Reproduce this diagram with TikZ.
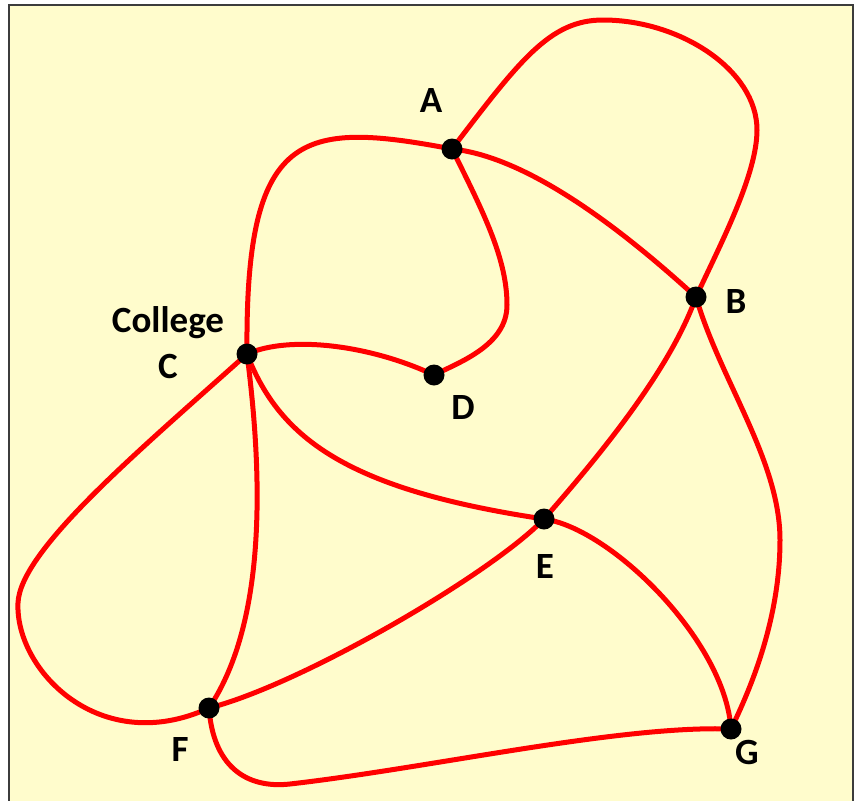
\documentclass[tikz,border=0pt]{standalone}
\usepackage{fontspec}
\setmainfont{Carlito}
\begin{document}
\begin{tikzpicture}[x=1pt,y=-1pt,
  edge/.style={draw=red,line width=5pt},
  dot/.style={circle,fill=black,inner sep=0pt,minimum size=21pt},
  lab/.style={font=\fontsize{37}{40}\selectfont\bfseries,anchor=base,inner sep=0pt}]
\useasboundingbox (0,0) rectangle (855,801);
\fill[white] (0,0) rectangle (855,801);
\filldraw[fill={rgb,255:red,255;green,252;blue,204},draw={rgb,255:red,60;green,60;blue,60},line width=2pt] (9,5) rectangle (853,806);
% node positions
\coordinate (pA) at (452,149);
\coordinate (pB) at (696,297);
\coordinate (pC) at (247,354);
\coordinate (pD) at (434,375);
\coordinate (pE) at (544,519);
\coordinate (pF) at (209,708);
\coordinate (pG) at (731,729);
\coordinate (t1) at (603,20);
\coordinate (t2) at (757,130);
\coordinate (d1) at (507,305);
\coordinate (l1) at (18,603);
\coordinate (b1) at (290,784);
\coordinate (r1) at (780,540);
% edges
\draw[edge] (pA) .. controls (300,120) and (245,130) .. (pC);
\draw[edge] (pA) .. controls (520,60) and (550,20) .. (t1)
  .. controls (680,20) and (757,70) .. (t2)
  .. controls (757,175) and (720,245) .. (pB);
\draw[edge] (pA) .. controls (510,155) and (590,200) .. (pB);
\draw[edge] (pA) .. controls (485,215) and (507,260) .. (d1)
  .. controls (507,345) and (460,362) .. (pD);
\draw[edge] (pC) .. controls (290,335) and (370,345) .. (pD);
\draw[edge] (pC) .. controls (280,440) and (350,490) .. (pE);
\draw[edge] (pC) .. controls (262,470) and (268,620) .. (pF);
\draw[edge] (pC) .. controls (140,450) and (20,550) .. (l1)
  .. controls (15,670) and (100,758) .. (pF);
\draw[edge] (pF) .. controls (300,685) and (490,575) .. (pE);
\draw[edge] (pF) .. controls (213,765) and (245,789) .. (b1)
  .. controls (430,768) and (620,725) .. (pG);
\draw[edge] (pE) .. controls (600,455) and (670,370) .. (pB);
\draw[edge] (pE) .. controls (610,528) and (725,640) .. (pG);
\draw[edge] (pB) .. controls (720,380) and (780,460) .. (r1)
  .. controls (780,620) and (750,690) .. (pG);
% dots
\node[dot] (A) at (pA) {};
\node[dot] (B) at (pB) {};
\node[dot] (C) at (pC) {};
\node[dot] (D) at (pD) {};
\node[dot] (E) at (pE) {};
\node[dot] (F) at (pF) {};
\node[dot] (G) at (pG) {};
% labels
\node[lab] (lA) at (431,112) {A};
\node[lab] (lB) at (736,313) {B};
\node[lab] (lCollege) at (168,332) {College};
\node[lab] (lC) at (168,378) {C};
\node[lab] (lD) at (463,419) {D};
\node[lab] (lE) at (545,578) {E};
\node[lab] (lF) at (180,761) {F};
\node[lab] (lG) at (747,764) {G};
\end{tikzpicture}
\end{document}
